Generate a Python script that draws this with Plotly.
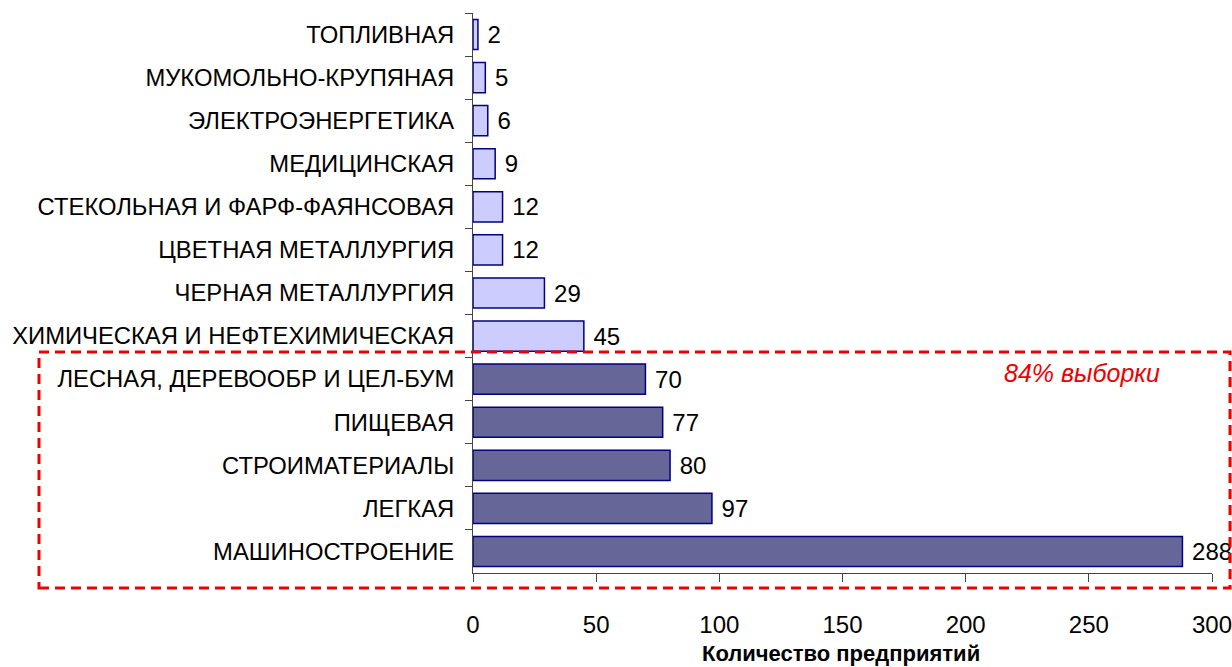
import plotly.graph_objects as go

categories = [
    "ТОПЛИВНАЯ",
    "МУКОМОЛЬНО-КРУПЯНАЯ",
    "ЭЛЕКТРОЭНЕРГЕТИКА",
    "МЕДИЦИНСКАЯ",
    "СТЕКОЛЬНАЯ И ФАРФ-ФАЯНСОВАЯ",
    "ЦВЕТНАЯ МЕТАЛЛУРГИЯ",
    "ЧЕРНАЯ МЕТАЛЛУРГИЯ",
    "ХИМИЧЕСКАЯ И НЕФТЕХИМИЧЕСКАЯ",
    "ЛЕСНАЯ, ДЕРЕВООБР И ЦЕЛ-БУМ",
    "ПИЩЕВАЯ",
    "СТРОИМАТЕРИАЛЫ",
    "ЛЕГКАЯ",
    "МАШИНОСТРОЕНИЕ",
]
values = [2, 5, 6, 9, 12, 12, 29, 45, 70, 77, 80, 97, 288]
in_sample = [False] * 8 + [True] * 5
x_ticks = [0, 50, 100, 150, 200, 250, 300]
x_title = "Количество предприятий"
box_label = "84% выборки"

LIGHT = "#CCCCFF"
DARK = "#666699"
EDGE = "#000080"
FONT = "Arial, Liberation Sans, sans-serif"

fig = go.Figure()
fig.add_trace(go.Bar(
    x=values,
    y=categories,
    orientation="h",
    marker=dict(color=[DARK if s else LIGHT for s in in_sample],
                line=dict(color=EDGE, width=1.5)),
    text=["\u00a0" + str(v) for v in values],
    textposition="outside",
    textfont=dict(family=FONT, size=24, color="#000000"),
    cliponaxis=False,
    width=0.7,
    hoverinfo="skip",
))

W, H = 1232, 667
L, T = 473, 13
plot_right, plot_bottom = 1212, 573
R, B = W - plot_right, H - plot_bottom
pw, ph = plot_right - L, plot_bottom - T


def px(xp):
    return (xp - L) / pw


def py(yp):
    return (plot_bottom - yp) / ph


fig.add_shape(type="rect", xref="paper", yref="paper",
              x0=px(39), x1=px(1230), y0=py(588), y1=py(352),
              line=dict(color="#EE0000", width=3, dash="10px,6px"),
              fillcolor="rgba(0,0,0,0)", layer="above")

fig.add_annotation(text="<i>" + box_label + "</i>", xref="paper", yref="paper",
                   x=px(1082), y=py(373), showarrow=False,
                   font=dict(family=FONT, size=25, color="#EE0000"),
                   xanchor="center", yanchor="middle")
fig.add_annotation(text="<b>" + x_title + "</b>", xref="paper", yref="paper",
                   x=px(841), y=py(653), showarrow=False,
                   font=dict(family=FONT, size=22, color="#000000"),
                   xanchor="center", yanchor="middle")

fig.update_layout(
    width=W, height=H,
    margin=dict(l=L, r=R, t=T, b=B, autoexpand=False),
    paper_bgcolor="white", plot_bgcolor="white",
    showlegend=False,
    font=dict(family=FONT, color="#000000"),
    xaxis=dict(range=[0, 300], tickvals=x_ticks, ticks="outside", ticklen=8,
               tickcolor="#444444", showline=True, linecolor="#444444",
               linewidth=1, showgrid=False, zeroline=False, automargin=False,
               ticklabeloverflow="allow",
               tickfont=dict(family=FONT, size=24), ticklabelstandoff=22),
    yaxis=dict(autorange="reversed", ticks="outside", ticklen=7,
               tickson="boundaries", tickcolor="#444444", showline=True,
               linecolor="#444444", linewidth=1, showgrid=False,
               automargin=False,
               tickfont=dict(family=FONT, size=23.8), ticklabelstandoff=13),
)

fig.write_html(
    "out.html",
    config={"displayModeBar": False},
    post_script="document.body.style.margin='0';"
                "document.body.style.overflow='hidden';",
)
